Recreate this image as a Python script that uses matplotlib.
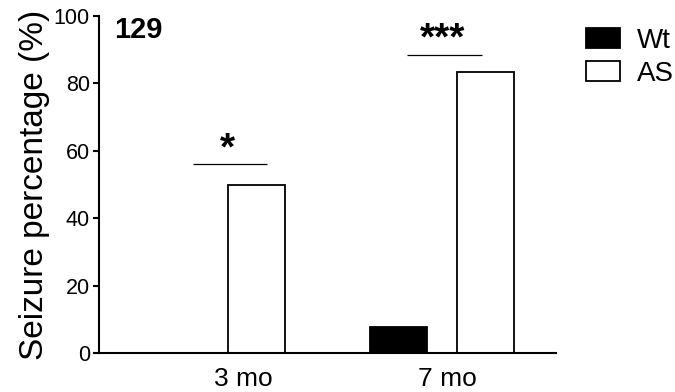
import numpy as np
import matplotlib
matplotlib.use("Agg")
import matplotlib.pyplot as plt

plt.rcParams['font.family'] = ['Liberation Sans', 'DejaVu Sans']

# data
groups = ['3 mo', '7 mo']
genotypes = ['Wt', 'AS']
wt_values = [0.0, 7.7]
as_values = [50.0, 83.3]
sig_labels = ['*', '***']
sig_heights = [56, 88.5]
sig_start = [-0.09, -0.15]   # left end of bracket, relative to group centre

x = np.arange(len(groups))
width = 0.25
offset = 0.19
sig_len = 0.325

fig = plt.figure(figsize=(6.75, 3.92), dpi=100)
ax = fig.add_axes([99 / 675, 1 - 353 / 392, (556 - 99) / 675, (353 - 16) / 392])

b_wt = ax.bar(x - offset, wt_values, width, color='black', edgecolor='black', linewidth=1.3, label='Wt')
b_as = ax.bar(x + offset, as_values, width, color='white', edgecolor='black', linewidth=1.3, label='AS')

# significance bars
for xi, lab, h, s0 in zip(x, sig_labels, sig_heights, sig_start):
    x0 = xi + s0
    ax.plot([x0, x0 + sig_len], [h, h], color='black', linewidth=0.9, solid_capstyle='butt')
    ax.text(x0 + sig_len / 2 - 0.01, h + 1.5, lab, ha='center', va='baseline', fontsize=28, fontweight='bold')

ax.set_xlim(-0.5, 1.5)
ax.set_ylim(0, 100)
ax.set_yticks([0, 20, 40, 60, 80, 100])
ax.set_xticks(x + np.array([0.13, 0.025]))
ax.set_xticklabels(groups, fontsize=19)
ax.tick_params(axis='x', length=0, pad=10)
ax.tick_params(axis='y', length=4.5, width=1.5, labelsize=15.5, pad=2)
ax.set_ylabel('Seizure percentage (%)', fontsize=24, labelpad=3)

for s in ['top', 'right']:
    ax.spines[s].set_visible(False)
for s in ['left', 'bottom']:
    ax.spines[s].set_linewidth(1.5)

ax.text(0.033, 1.0, '129', transform=ax.transAxes, ha='left', va='top', fontsize=21, fontweight='bold')

fig.legend(handles=[b_wt, b_as], labels=genotypes, loc='upper left',
           bbox_to_anchor=(586 / 675, 1 - 28 / 392), frameon=False, fontsize=20,
           handlelength=1.22, handleheight=0.75, handletextpad=0.6,
           labelspacing=0.25, borderpad=0, borderaxespad=0)

fig.savefig('out.png', dpi=100)
